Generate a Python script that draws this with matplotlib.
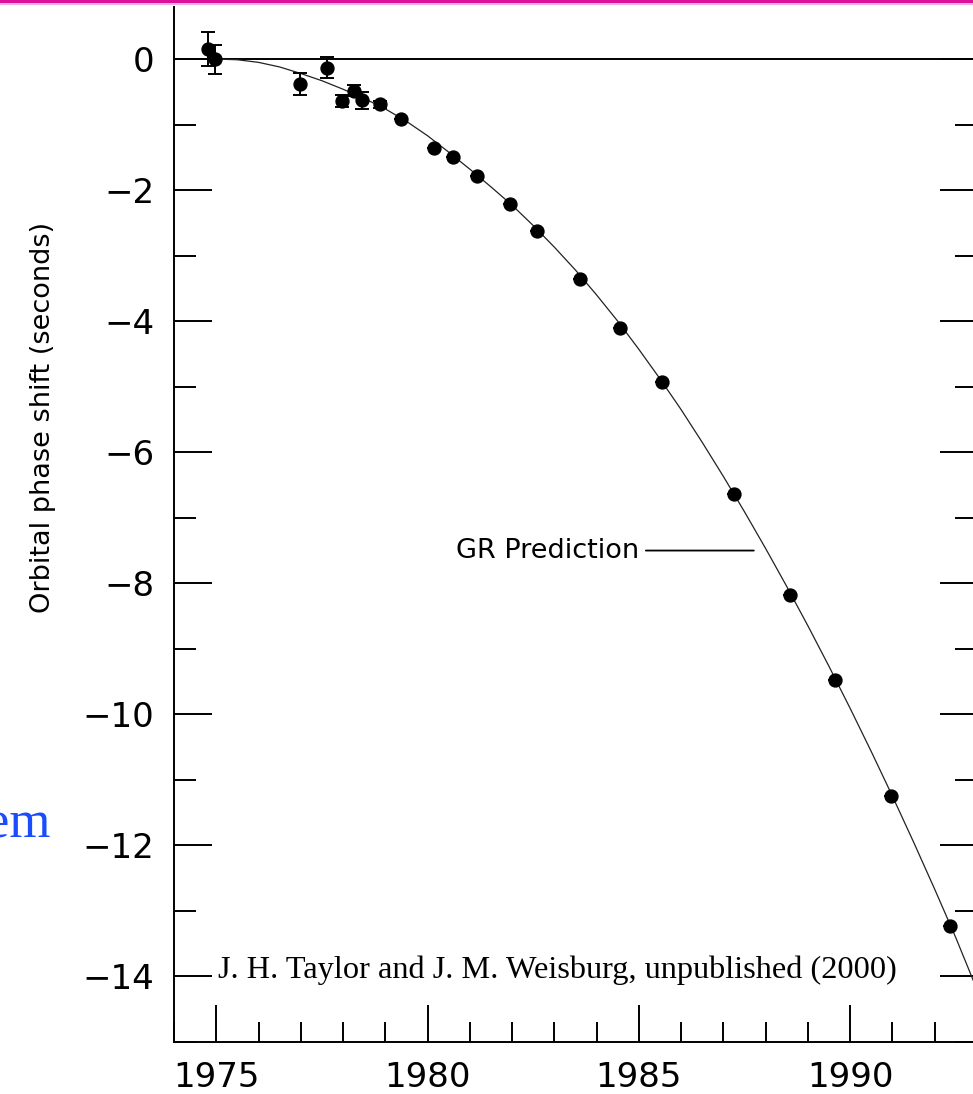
import matplotlib
matplotlib.use("Agg")
import matplotlib.pyplot as plt
from matplotlib.patches import Rectangle
from matplotlib.ticker import MultipleLocator

# timing measurements (year, orbital phase shift in s, 1-sigma error)
years = [1974.81, 1974.97, 1976.97, 1977.62, 1977.98, 1978.27, 1978.45, 1978.87,
         1979.36, 1980.15, 1980.61, 1981.18, 1981.96, 1982.59, 1983.61, 1984.56,
         1985.55, 1987.24, 1988.58, 1989.65, 1990.96, 1992.36]
shift = [0.16, 0.0, -0.38, -0.13, -0.64, -0.48, -0.63, -0.69,
         -0.92, -1.35, -1.50, -1.78, -2.21, -2.63, -3.35, -4.10,
         -4.93, -6.64, -8.18, -9.47, -11.24, -13.23]
errors = [0.26, 0.22, 0.17, 0.16, 0.09, 0.08, 0.13, 0.05,
          0.0, 0.0, 0.0, 0.0, 0.0, 0.0, 0.0, 0.0,
          0.0, 0.0, 0.0, 0.0, 0.0, 0.0]

# GR prediction curve, every half year
gr_years = [1975.0, 1975.5, 1976.0, 1976.5, 1977.0, 1977.5, 1978.0, 1978.5,
            1979.0, 1979.5, 1980.0, 1980.5, 1981.0, 1981.5, 1982.0, 1982.5,
            1983.0, 1983.5, 1984.0, 1984.5, 1985.0, 1985.5, 1986.0, 1986.5,
            1987.0, 1987.5, 1988.0, 1988.5, 1989.0, 1989.5, 1990.0, 1990.5,
            1991.0, 1991.5, 1992.0, 1992.5, 1993.0]
gr_shift = [0.00, -0.01, -0.05, -0.12, -0.22, -0.33, -0.46, -0.60,
            -0.76, -0.95, -1.17, -1.42, -1.68, -1.95, -2.23, -2.54,
            -2.87, -3.22, -3.60, -4.00, -4.43, -4.88, -5.35, -5.85,
            -6.37, -6.91, -7.47, -8.05, -8.65, -9.27, -9.91, -10.57,
            -11.25, -11.95, -12.67, -13.41, -14.20]

xticks = [1975, 1980, 1985, 1990]
yticks = [0, -2, -4, -6, -8, -10, -12, -14]

W, H = 973, 1094
fig = plt.figure(figsize=(W / 100, H / 100), dpi=100)
ax = fig.add_axes([174 / W, 1 - 1042 / H, (977 - 174) / W, (1042 - 7) / H])
ax.set_xlim(1974, 1993)
ax.set_ylim(-15, 0.795)

ax.axhline(0, color="black", lw=1.4, zorder=1)
ax.plot(gr_years, gr_shift, color="#222222", lw=0.9, zorder=2)
ax.errorbar(years, shift, yerr=errors, fmt="o", color="black", ms=9.3,
            elinewidth=1.4, capsize=4.8, capthick=1.4, zorder=3)

ax.annotate("GR Prediction", xy=(1987.72, -7.5), xytext=(1985.0, -7.5),
            ha="right", va="center", fontsize=19.5, family="DejaVu Sans",
            arrowprops=dict(arrowstyle="-", lw=1.3, color="black",
                            shrinkA=3, shrinkB=0))
ax.text(1975.05, -14.02, "J. H. Taylor and J. M. Weisburg, unpublished (2000)",
        ha="left", va="baseline", fontsize=23.3, family="Liberation Serif")

ax.spines["top"].set_visible(False)
for s in ax.spines.values():
    s.set_linewidth(1.4)

ax.set_xticks(xticks)
ax.set_yticks(yticks)
ax.xaxis.set_minor_locator(MultipleLocator(1))
ax.yaxis.set_minor_locator(MultipleLocator(1))
ax.tick_params(axis="x", which="both", direction="in", top=False, width=1.4,
               labelsize=24.5, pad=13.5)
ax.tick_params(axis="y", which="both", direction="in", left=True, right=True,
               width=1.4, labelsize=24.5, pad=14)
ax.tick_params(axis="x", which="major", length=26.6)
ax.tick_params(axis="x", which="minor", length=14.4)
ax.tick_params(axis="y", which="major", length=27)
ax.tick_params(axis="y", which="minor", length=16)

fig.text(43 / W, 1 - 417 / H, "Orbital phase shift (seconds)", rotation=90,
         ha="center", va="center", fontsize=19.5)

# bits of the surrounding slide
fig.text(51 / W, 1 - 837 / H, "em", ha="right", va="baseline", fontsize=38,
         family="Liberation Serif", color="#1a4cff")
fig.add_artist(Rectangle((0, 1 - 3 / H), 1, 3 / H, transform=fig.transFigure,
                         color="#dd1199", lw=0))
fig.add_artist(Rectangle((0, 1 - 5 / H), 1, 2 / H, transform=fig.transFigure,
                         color="#f0b0e8", lw=0))

fig.savefig("out.png", dpi=100)
